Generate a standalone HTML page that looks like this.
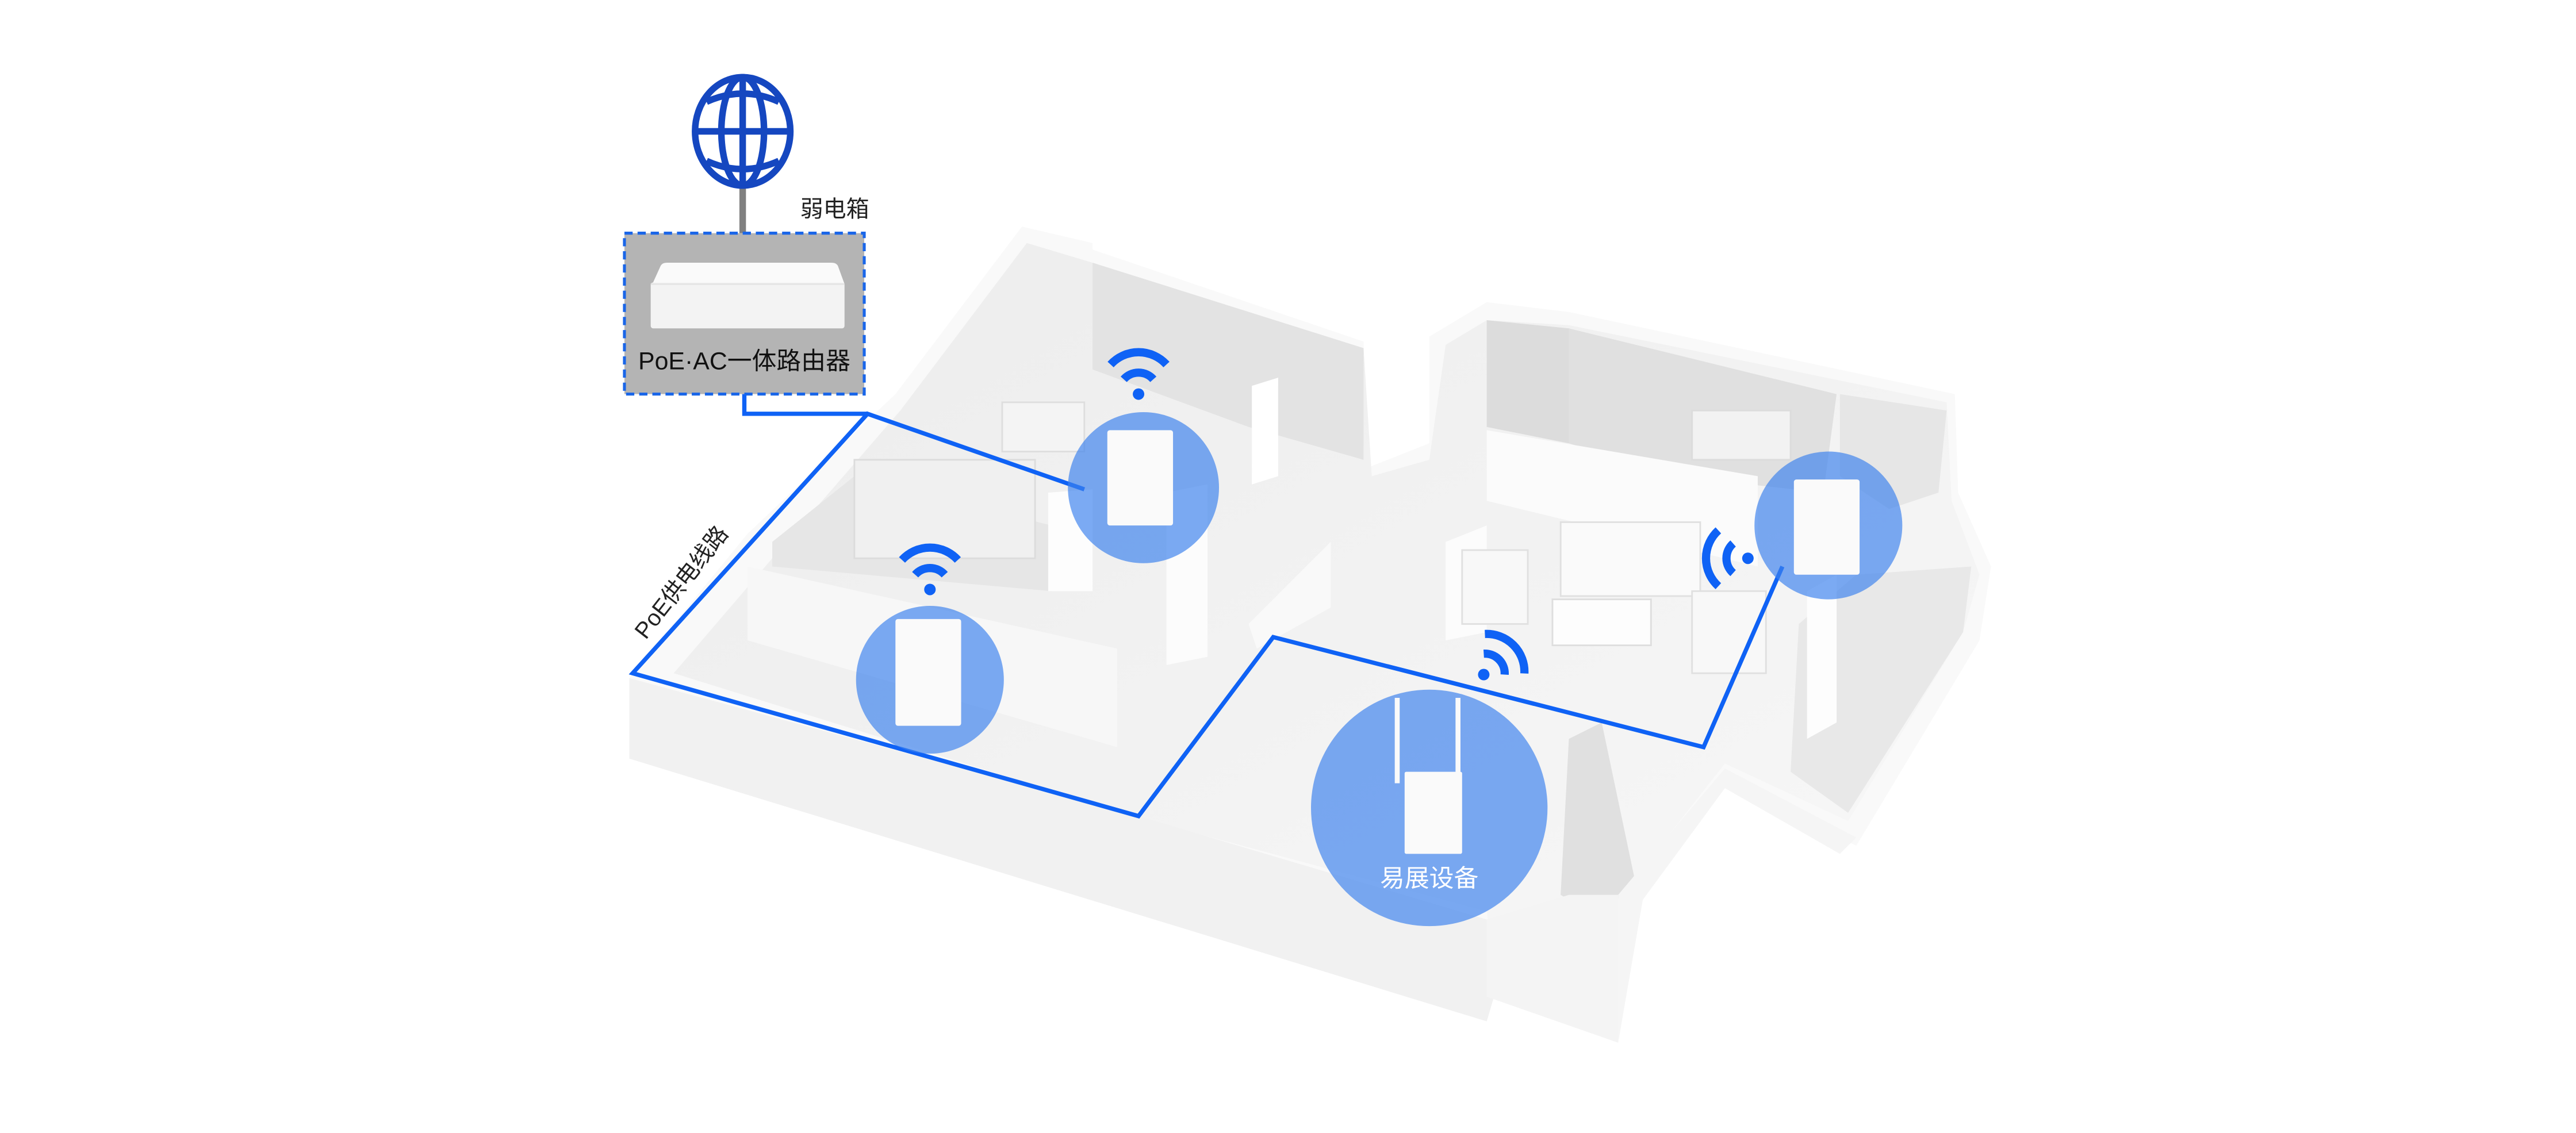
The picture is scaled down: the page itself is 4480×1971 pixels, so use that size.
<!DOCTYPE html>
<html><head><meta charset="utf-8"><style>
html,body{margin:0;padding:0;background:#fff;}
svg{display:block;}
text{font-family:"Liberation Sans","Noto Sans CJK SC",sans-serif;}
</style></head><body>
<svg width="4480" height="1971" viewBox="0 0 1568 690" xmlns="http://www.w3.org/2000/svg">
<defs>
<linearGradient id="fl" x1="0" y1="0" x2="1" y2="1"><stop offset="0" stop-color="#ececec"/><stop offset="1" stop-color="#f8f8f8"/></linearGradient>
</defs>
<!-- house base / outer walls -->
<polygon points="383,413 455,325 545,240 622,138 665,148 665,152 830,208 832,285 870,270 870,205 905,184 955,190 1190,240 1192,300 1212,345 1205,390 1130,515 1050,478 1000,548 985,635 905,607 905,622 383,462" fill="#f9f9f9"/>
<!-- floors -->
<polygon points="410,410 470,340 548,250 625,148 665,160 830,212 835,290 870,280 880,210 905,195 955,198 1185,245 1188,305 1205,350 1195,385 1125,500 1050,465 995,535 975,625 910,595 905,555 700,500" fill="url(#fl)"/>
<!-- inner darker rooms -->
<polygon points="665,160 830,212 830,280 760,260 665,225" fill="#e3e3e3"/>
<polygon points="955,200 1118,240 1110,300 1020,290 955,270" fill="#e0e0e0"/>
<polygon points="905,195 955,200 955,270 905,260" fill="#dcdcdc"/>
<polygon points="1120,240 1185,250 1180,300 1150,310 1120,290" fill="#e6e6e6"/>
<polygon points="1130,350 1200,345 1195,385 1125,495 1090,470 1095,380" fill="#e8e8e8"/>
<polygon points="955,450 975,440 995,535 975,560 950,545" fill="#e0e0e0"/>
<polygon points="470,330 520,290 640,320 640,360 470,345" fill="#e6e6e6"/>
<!-- interior walls white -->
<polygon points="762,235 778,230 778,290 762,295" fill="#fff"/>
<polygon points="710,300 735,295 735,400 710,405" fill="#fcfcfc"/>
<polygon points="638,300 665,298 665,360 638,360" fill="#fdfdfd"/>
<polygon points="905,262 1070,290 1070,345 905,305" fill="#fbfbfb"/>
<polygon points="455,345 680,395 680,455 455,390" fill="#f7f7f7"/>
<polygon points="760,380 810,330 810,370 765,395" fill="#f9f9f9"/>
<polygon points="880,330 905,320 905,385 880,390" fill="#fcfcfc"/>
<polygon points="1100,360 1118,350 1118,440 1100,450" fill="#fdfdfd"/>
<!-- front bottom walls -->
<polygon points="383,413 693,497 905,560 910,605 905,622 383,462" fill="#f1f1f1"/>
<polygon points="905,560 955,545 985,545 985,635 905,607" fill="#f4f4f4"/>
<polygon points="985,545 1050,468 1130,510 1120,520 1050,480 1000,548 985,635" fill="#f5f5f5"/>
<!-- furniture hints -->
<rect x="950" y="318" width="85" height="45" fill="#fafafa" stroke="#e0e0e0"/>
<rect x="890" y="335" width="40" height="45" fill="#f8f8f8" stroke="#e0e0e0"/>
<rect x="1030" y="360" width="45" height="50" fill="#f8f8f8" stroke="#e0e0e0"/>
<rect x="945" y="365" width="60" height="28" fill="#fdfdfd" stroke="#dedede"/>
<rect x="520" y="280" width="110" height="60" fill="#f0f0f0" stroke="#dcdcdc"/>
<rect x="610" y="245" width="50" height="30" fill="#f4f4f4" stroke="#dedede"/>
<rect x="1030" y="250" width="60" height="30" fill="#f2f2f2" stroke="#dcdcdc"/>

<!-- globe -->
<line x1="452" y1="108" x2="452" y2="142" stroke="#808080" stroke-width="4"/>
<g fill="none" stroke="#1547c0" stroke-width="4">
<ellipse cx="452" cy="80" rx="29" ry="33"/>
<ellipse cx="452" cy="80" rx="13" ry="33"/>
<line x1="452" y1="47" x2="452" y2="113"/>
<line x1="423" y1="80" x2="481" y2="80"/>
<path d="M430 62 Q452 52 474 62"/>
<path d="M430 98 Q452 108 474 98"/>
</g>
<text x="487" y="132" font-size="14" fill="#222">弱电箱</text>
<!-- router box -->
<rect x="380" y="142" width="146" height="98" fill="#b4b4b4" stroke="#1a66e8" stroke-width="1.8" stroke-dasharray="5,3"/>
<path d="M397 173 L402 162 Q403 160 406 160 L506 160 Q509 160 510 162 L514 173 Z" fill="#fafafa"/>
<rect x="396" y="172" width="118" height="28" rx="1.5" fill="#f3f3f3"/>
<line x1="396" y1="173" x2="514" y2="173" stroke="#e2e2e2" stroke-width="0.8"/>
<text x="453" y="225" font-size="15" fill="#111" text-anchor="middle">PoE·AC一体路由器</text>
<!-- PoE lines -->
<g fill="none" stroke="#0f62f5" stroke-width="2.6" stroke-linejoin="miter">
<polyline points="453,240 453,252 528,252"/>
<polyline points="660,298 528,252 385,410 693,497 775,388 1037,455 1085,345"/>
</g>
<text transform="translate(393,390) rotate(-52)" font-size="14" fill="#222">PoE供电线路</text>
<!-- circles -->
<g fill="#3d82ee" fill-opacity="0.68">
<circle cx="696" cy="297" r="46"/>
<circle cx="566" cy="414" r="45"/>
<circle cx="1113" cy="320" r="45"/>
<circle cx="870" cy="492" r="72"/>
</g>
<!-- APs -->
<rect x="674" y="262" width="40" height="58" rx="1.5" fill="#fafafa"/>
<rect x="545" y="377" width="40" height="65" rx="1.5" fill="#fafafa"/>
<rect x="1092" y="292" width="40" height="58" rx="1.5" fill="#fafafa"/>
<rect x="849" y="425" width="3" height="52" fill="#fafafa"/>
<rect x="886" y="425" width="3" height="52" fill="#fafafa"/>
<rect x="855" y="470" width="35" height="50" rx="1" fill="#fafafa"/>
<text x="870" y="540" font-size="15" fill="#fff" text-anchor="middle">易展设备</text>
<!-- wifi icons -->
<g transform="translate(693,236)">
<path d="M-17 -14 A23 23 0 0 1 17 -14" fill="none" stroke="#0f62f5" stroke-width="5"/>
<path d="M-9 -5 A12 12 0 0 1 9 -5" fill="none" stroke="#0f62f5" stroke-width="5"/>
<circle cx="0" cy="4" r="3.5" fill="#0f62f5"/>
</g>
<g transform="translate(566,355)">
<path d="M-17 -14 A23 23 0 0 1 17 -14" fill="none" stroke="#0f62f5" stroke-width="5"/>
<path d="M-9 -5 A12 12 0 0 1 9 -5" fill="none" stroke="#0f62f5" stroke-width="5"/>
<circle cx="0" cy="4" r="3.5" fill="#0f62f5"/>
</g>
<g transform="translate(1060,340) rotate(-90)">
<path d="M-17 -14 A23 23 0 0 1 17 -14" fill="none" stroke="#0f62f5" stroke-width="5"/>
<path d="M-9 -5 A12 12 0 0 1 9 -5" fill="none" stroke="#0f62f5" stroke-width="5"/>
<circle cx="0" cy="4" r="3.5" fill="#0f62f5"/>
</g>
<g transform="translate(906,408) rotate(45)">
<path d="M-17 -14 A23 23 0 0 1 17 -14" fill="none" stroke="#0f62f5" stroke-width="5"/>
<path d="M-9 -5 A12 12 0 0 1 9 -5" fill="none" stroke="#0f62f5" stroke-width="5"/>
<circle cx="0" cy="4" r="3.5" fill="#0f62f5"/>
</g>
</svg>
</body></html>
